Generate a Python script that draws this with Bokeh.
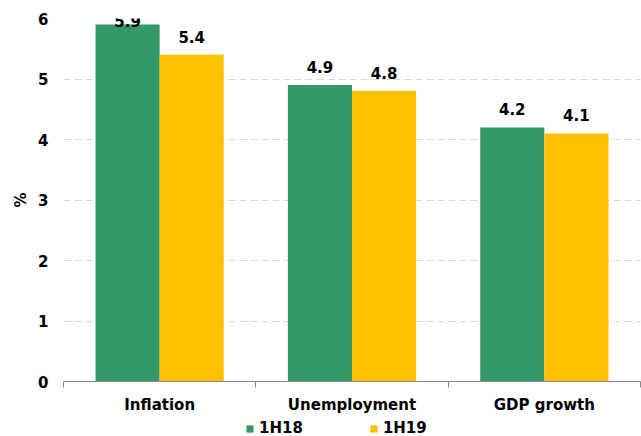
from bokeh.plotting import figure
from bokeh.layouts import column
from bokeh.models import (ColumnDataSource, Range1d, FixedTicker, LabelSet, Legend, LegendItem)
from bokeh.core.properties import value
from bokeh.transform import dodge
from bokeh.embed import file_html
from bokeh.resources import INLINE

categories = ["Inflation", "Unemployment", "GDP growth"]
series_names = ["1H18", "1H19"]
values_1h18 = [5.9, 4.9, 4.2]
values_1h19 = [5.4, 4.8, 4.1]
y_ticks = [0, 1, 2, 3, 4, 5, 6]

GREEN = "#339966"
YELLOW = "#FFC000"
FONT = "DejaVu Sans"

idx = [i + 0.5 for i in range(len(categories))]
Y_MAX = 6
label_cap = Y_MAX - 0.34  # keep labels inside chart like Excel does
src = ColumnDataSource(dict(
    x=idx,
    a=values_1h18,
    b=values_1h19,
    a_lab=[f"{v:.1f}" for v in values_1h18],
    b_lab=[f"{v:.1f}" for v in values_1h19],
    a_y=[min(v, label_cap) for v in values_1h18],
    b_y=[min(v, label_cap) for v in values_1h19],
))

H_MAIN = 416
FRAME_LEFT = 63
p = figure(width=641, height=H_MAIN, output_backend="svg", toolbar_location=None,
           x_range=Range1d(0, len(categories)), y_range=Range1d(0, Y_MAX))
p.min_border_left = FRAME_LEFT
p.min_border_right = 1
p.min_border_top = 18
p.min_border_bottom = H_MAIN - 382
p.outline_line_color = None
p.background_fill_color = "white"
p.border_fill_color = "white"

bw = 1 / 3
r1 = p.vbar(x=dodge("x", -bw / 2, range=p.x_range), top="a", width=bw, source=src,
            fill_color=GREEN, line_color=None)
r2 = p.vbar(x=dodge("x", bw / 2, range=p.x_range), top="b", width=bw, source=src,
            fill_color=YELLOW, line_color=None)

for col, lab, off in (("a_y", "a_lab", -bw / 2), ("b_y", "b_lab", bw / 2)):
    ls = LabelSet(x=dodge("x", off, range=p.x_range), y=col, text=lab, source=src,
                  text_align="center", text_baseline="bottom", y_offset=12,
                  text_font=value(FONT), text_font_style="bold",
                  text_font_size=value("15px"), text_color="black")
    p.add_layout(ls)

# x axis
p.xaxis.ticker = FixedTicker(ticks=idx, minor_ticks=list(range(len(categories) + 1)))
p.xaxis.major_label_overrides = {v: c for v, c in zip(idx, categories)}
p.xaxis.major_tick_line_color = None
p.xaxis.major_tick_out = 0
p.xaxis.major_tick_in = 0
p.xaxis.minor_tick_in = 0
p.xaxis.minor_tick_out = 6
p.xaxis.minor_tick_line_color = "#898989"
p.xaxis.axis_line_color = "#898989"
p.xaxis.major_label_standoff = 8
p.xaxis.major_label_text_font = FONT
p.xaxis.major_label_text_font_style = "bold"
p.xaxis.major_label_text_font_size = "15px"
p.xaxis.major_label_text_color = "black"
p.xgrid.grid_line_color = None

# y axis
p.yaxis.ticker = FixedTicker(ticks=y_ticks)
p.yaxis.axis_line_color = None
p.yaxis.major_tick_line_color = None
p.yaxis.major_tick_out = 0
p.yaxis.major_tick_in = 0
p.yaxis.minor_tick_line_color = None
p.yaxis.major_label_standoff = 15
p.yaxis.major_label_text_font = FONT
p.yaxis.major_label_text_font_style = "bold"
p.yaxis.major_label_text_font_size = "15px"
p.yaxis.major_label_text_color = "black"
p.yaxis.axis_label = "%"
p.yaxis.axis_label_standoff = 5
p.yaxis.axis_label_text_font = FONT
p.yaxis.axis_label_text_font_style = "bold"
p.yaxis.axis_label_text_font_size = "15px"
p.yaxis.axis_label_text_color = "black"
p.ygrid.grid_line_color = "#D9D9D9"
p.ygrid.grid_line_dash = "7 4"
p.ygrid.grid_line_width = 1

# legend strip underneath (frames are aligned by the column layout)
H_LEG = 436 - H_MAIN
pl = figure(width=641, height=H_LEG, output_backend="svg", toolbar_location=None,
            x_range=Range1d(0, 1), y_range=Range1d(0, 1),
            x_axis_location=None, y_axis_location=None)
pl.min_border = 0
pl.min_border_left = FRAME_LEFT
pl.min_border_right = 1
pl.outline_line_color = None
pl.xgrid.grid_line_color = None
pl.ygrid.grid_line_color = None
proxy = ColumnDataSource(dict(x=[-1.0], top=[0.0]))  # legend proxies, outside view
l1 = pl.vbar(x="x", top="top", width=0.1, source=proxy, fill_color=GREEN, line_color=None)
l2 = pl.vbar(x="x", top="top", width=0.1, source=proxy, fill_color=YELLOW, line_color=None)
legend = Legend(items=[LegendItem(label=series_names[0], renderers=[l1]),
                       LegendItem(label=series_names[1], renderers=[l2])],
                orientation="horizontal", location=(245 - FRAME_LEFT, -1),
                padding=0, margin=0, spacing=66, label_standoff=5,
                glyph_width=9, glyph_height=9, label_height=16,
                label_text_font=FONT, label_text_font_style="bold",
                label_text_font_size="15px", label_text_color="black",
                border_line_color=None, background_fill_alpha=0)
pl.add_layout(legend, "center")

layout = column(p, pl, spacing=0)
open("out.html", "w").write(file_html(layout, INLINE))
